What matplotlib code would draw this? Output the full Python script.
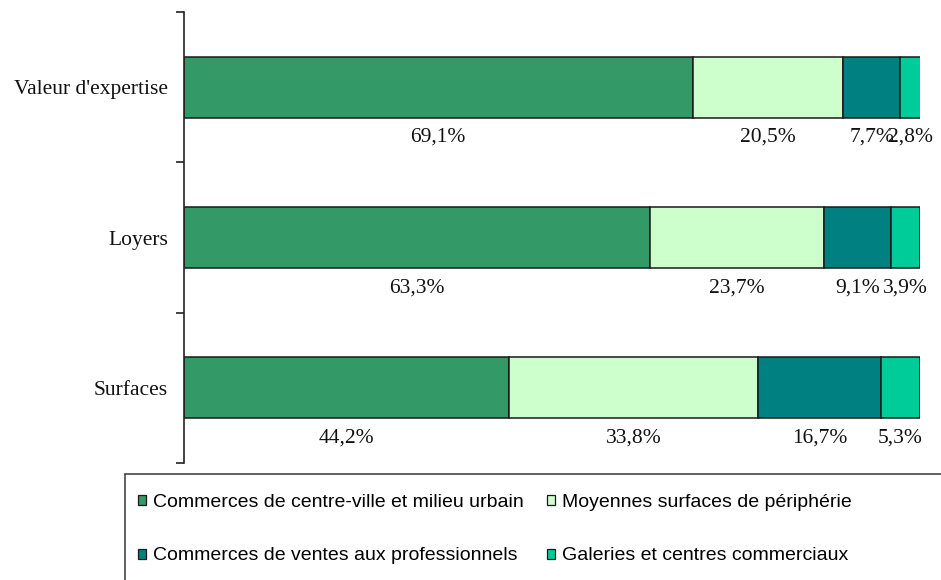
import matplotlib
matplotlib.use("Agg")
import matplotlib.pyplot as plt
from matplotlib.patches import Patch, Rectangle

# Data
categories = ["Valeur d'expertise", "Loyers", "Surfaces"]
series_names = [
    "Commerces de centre-ville et milieu urbain",
    "Moyennes surfaces de périphérie",
    "Commerces de ventes aux professionnels",
    "Galeries et centres commerciaux",
]
centre_ville = [69.1, 63.3, 44.2]
peripherie = [20.5, 23.7, 33.8]
professionnels = [7.7, 9.1, 16.7]
galeries = [2.8, 3.9, 5.3]
series_values = [centre_ville, peripherie, professionnels, galeries]
colors = ["#339966", "#CCFFCC", "#008080", "#00CC99"]

serif = "Liberation Serif"
sans = "Liberation Sans"

fig = plt.figure(figsize=(9.41, 5.8), dpi=100)
ax = fig.add_axes([184 / 941, 1 - 463 / 580, (920 - 184) / 941, (463 - 12) / 580])

y_pos = list(range(len(categories)))
left = [0.0] * len(categories)
for name, vals, col in zip(series_names, series_values, colors):
    ax.barh(y_pos, vals, left=left, height=0.405, color=col,
            edgecolor="#1a1a1a", linewidth=1.1, label=name)
    for i, v in enumerate(vals):
        ax.text(left[i] + v / 2, i + 0.335, f"{v:.1f}%".replace(".", ","),
                ha="center", va="center", fontsize=15.5, family=serif,
                color="#111111")
    left = [l + v for l, v in zip(left, vals)]

ax.set_xlim(0, 100)
ax.set_ylim(len(categories) - 0.5, -0.5)

for side in ["top", "right", "bottom"]:
    ax.spines[side].set_visible(False)
ax.spines["left"].set_linewidth(1.2)
ax.spines["left"].set_color("#222222")
ax.set_xticks([])

ax.set_yticks(y_pos)
ax.set_yticklabels(categories, family=serif, fontsize=15.5, color="#111111")
ax.tick_params(axis="y", which="major", length=0, pad=11.5)
ax.set_yticks([y - 0.5 for y in range(len(categories) + 1)], minor=True)
ax.tick_params(axis="y", which="minor", length=5.8, width=1.2, color="#222222")

# Legend frame extends past the figure edge like in the original
fig.add_artist(Rectangle((125 / 941, -0.05), 1.0, 1 - 474 / 580 + 0.05,
                         transform=fig.transFigure, fill=False,
                         edgecolor="#444444", linewidth=1.2))

# row-major order: matplotlib fills legend columns first
order = [0, 2, 1, 3]
handles = [Patch(facecolor=colors[k], edgecolor="#1a1a1a", linewidth=0.9) for k in order]
labels = [series_names[k] for k in order]
fig.legend(handles, labels, loc="upper left", ncol=2,
           bbox_to_anchor=(122 / 941, 1 - 478 / 580), frameon=False,
           prop={"family": sans, "size": 14},
           handlelength=0.42, handleheight=0.42, handletextpad=0.35,
           columnspacing=1.2, labelspacing=1.9, borderpad=0.3)

fig.savefig("out.png", dpi=100)
